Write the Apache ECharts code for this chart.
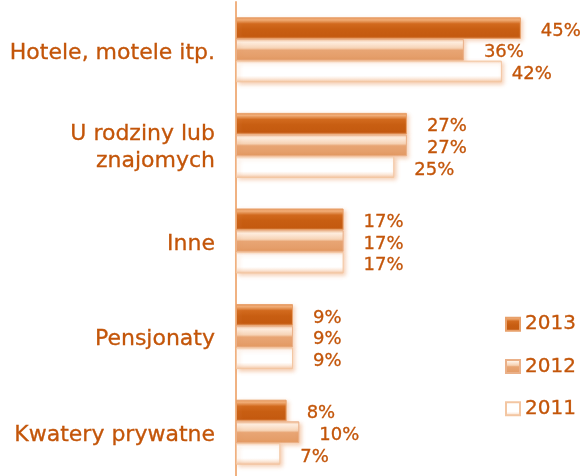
<!DOCTYPE html>
<html>
<head>
<meta charset="utf-8">
<script src="https://cdn.jsdelivr.net/npm/echarts@6/dist/echarts.min.js"></script>
<style>
  html, body { margin: 0; padding: 0; background: #ffffff; overflow: hidden; }
  #chart { width: 586px; height: 480px; }
</style>
</head>
<body>
<div id="chart"></div>
<script>
// Accommodation types, top to bottom
const categories = ['Hotele, motele itp.', 'U rodziny lub\nznajomych', 'Inne', 'Pensjonaty', 'Kwatery prywatne'];

// Share of nights (%) per year
const years = ['2013', '2012', '2011'];
const values2013 = [45, 27, 17, 9, 8];
const values2012 = [36, 27, 17, 9, 10];
const values2011 = [42, 25, 17, 9, 7];

const textColor = '#c35509';
const font = 'DejaVu Sans';
// slight stroke to give the text its heavier look
const textWeight = { textBorderColor: textColor, textBorderWidth: 0.3 };

// Glossy bar fills, one per year
function grad(stops) {
  return new echarts.graphic.LinearGradient(0, 0, 0, 1,
    stops.map(([offset, color]) => ({ offset, color })));
}
const fills = {
  '2013': grad([[0, '#e39256'], [0.12, '#f2b07a'], [0.3, '#d26a1e'], [0.55, '#c85e12'], [0.88, '#c45a10'], [1, '#d8844a']]),
  '2012': grad([[0, '#f0c09a'], [0.15, '#fff3e8'], [0.42, '#f6d2b4'], [0.52, '#e8a574'], [1, '#e39a64']]),
  '2011': grad([[0, '#f6d3b8'], [0.15, '#ffffff'], [0.7, '#ffffff'], [0.86, '#fbe6d6'], [1, '#f2c29e']])
};
const borders = { '2013': '#e8a06a', '2012': '#eab088', '2011': '#f3c6a2' };

// Label spacing tweaks where a value label sits closer to its bar
const labelDistance = { '2011': { 0: 10 } };

function makeSeries(name, values) {
  return {
    name,
    type: 'bar',
    barGap: '0%',
    barCategoryGap: '32%',
    data: values.map((v, i) => {
      const d = { value: v };
      const dist = labelDistance[name] && labelDistance[name][i];
      if (dist !== undefined) d.label = { distance: dist };
      return d;
    }),
    itemStyle: {
      color: fills[name],
      borderColor: borders[name],
      borderWidth: 1,
      shadowBlur: 4,
      shadowColor: 'rgba(235,150,90,0.45)',
      shadowOffsetX: 2,
      shadowOffsetY: 2
    },
    label: Object.assign({
      show: true,
      position: 'right',
      distance: 20,
      offset: [0, 3],
      formatter: '{c}%',
      color: textColor,
      fontFamily: font,
      fontSize: 18
    }, textWeight)
  };
}

// Category text: first line carries a top pad so the block sits a little low
const catText = Object.assign({ color: textColor, fontFamily: font, fontSize: 22, lineHeight: 32 }, textWeight);
function catFormatter(v) {
  const lines = v.split('\n');
  if (lines.length === 1) return '{first|' + v + '}';
  let s = '{firstM|' + lines[0] + '}';
  for (let k = 1; k < lines.length; k++) s += '\n{rest|' + lines[k] + '}';
  return s;
}

const chart = echarts.init(document.getElementById('chart'), null, { renderer: 'canvas' });
chart.setOption({
  animation: false,
  backgroundColor: '#ffffff',
  grid: { left: 236, right: 33.5, top: 2, bottom: 0, containLabel: false },
  legend: {
    orient: 'vertical',
    left: 505,
    top: 314,
    padding: 0,
    icon: 'rect',
    itemWidth: 14,
    itemHeight: 13,
    itemGap: 22,
    data: years,
    textStyle: Object.assign({ color: textColor, fontFamily: font, fontSize: 20 }, textWeight)
  },
  xAxis: { type: 'value', min: 0, max: 50, show: false },
  yAxis: {
    type: 'category',
    inverse: true,
    data: categories,
    axisTick: { show: false },
    axisLine: { show: true, lineStyle: { color: '#f0b282', width: 2 } },
    axisLabel: {
      margin: 21,
      formatter: catFormatter,
      rich: {
        first: Object.assign({}, catText, { padding: [6, 0, 0, 0] }),
        firstM: Object.assign({}, catText, { padding: [12, 0, 0, 0] }),
        rest: Object.assign({}, catText, { lineHeight: 35 })
      }
    }
  },
  series: [
    makeSeries('2013', values2013),
    makeSeries('2012', values2012),
    makeSeries('2011', values2011)
  ]
});
</script>
</body>
</html>
